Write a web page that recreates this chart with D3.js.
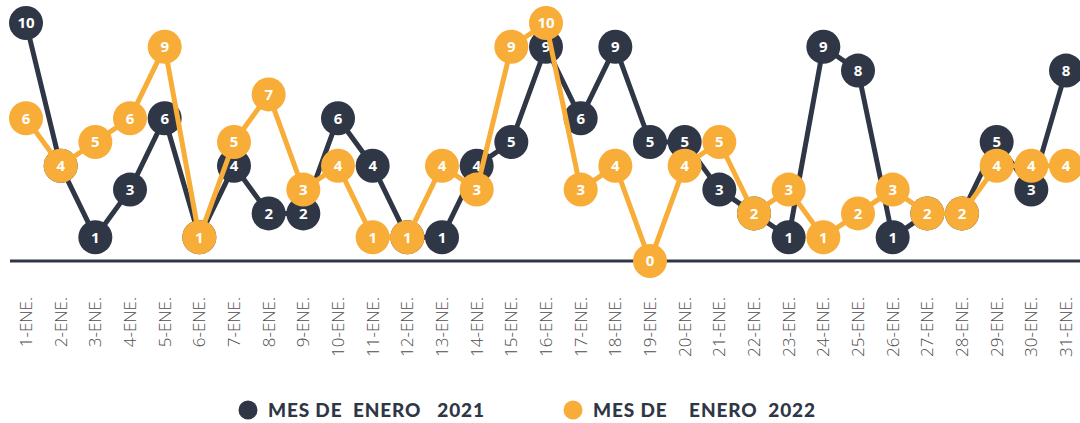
<!doctype html>
<html lang="es">
<head>
<meta charset="utf-8">
<title>Mes de enero 2021 / 2022</title>
<script src="https://cdn.jsdelivr.net/npm/d3@7"></script>
<style>
  body { margin: 0; background: #fff; }
  svg { display: block; font-family: "Open Sans", "DejaVu Sans", sans-serif; }
</style>
</head>
<body>
<script>
    // data
    var days = d3.range(1, 32).map(function(d){ return d + "-ENE."; });
    var serie2021 = [10,4,1,3,6,1,4,2,2,6,4,1,1,4,5,9,6,9,5,5,3,2,1,9,8,1,2,2,5,3,8];
    var serie2022 = [6,4,5,6,9,1,5,7,3,4,1,1,4,3,9,10,3,4,0,4,5,2,3,1,2,3,2,2,4,4,4];
    var seriesNames = ["MES DE  ENERO   2021", "MES DE    ENERO  2022"];
    var colors = ["#2f3746", "#f8ad38"];

    var width = 1080, height = 423;

    var svg = d3.select("body").append("svg")
            .attr("width", width).attr("height", height);

    var x = d3.scalePoint().domain(days).range([26, 1066]);
    var y = d3.scaleLinear().domain([0, 10]).range([261, 23]);

    // baseline
    svg.append("line")
        .attr("x1", 10).attr("x2", width)
        .attr("y1", y(0)).attr("y2", y(0))
        .attr("stroke", colors[0]).attr("stroke-width", 3);

    // tick labels, rotated
    svg.append("g").selectAll("text")
        .data(days)
        .enter().append("text")
        .attr("transform", function(d){ return "translate(" + (x(d) + 6) + ",297) rotate(-90)"; })
        .attr("text-anchor", "end")
        .attr("font-size", 17)
        .attr("fill", "#4d4d4d")
        .attr("font-weight", 300)
        .text(function(d){ return d; });

    var line = d3.line()
        .x(function(d, i){ return x(days[i]); })
        .y(function(d){ return y(d); });

    [serie2021, serie2022].forEach(function(serie, k){
        var g = svg.append("g");
        g.append("path")
            .attr("d", line(serie))
            .attr("fill", "none")
            .attr("stroke", colors[k])
            .attr("stroke-width", 5)
            .attr("stroke-linejoin", "round");
        var pts = g.selectAll("g.pt")
            .data(serie)
            .enter().append("g")
            .attr("transform", function(d, i){ return "translate(" + x(days[i]) + "," + y(d) + ")"; });
        pts.append("circle")
            .attr("r", 17)
            .attr("fill", colors[k]);
        pts.append("text")
            .attr("text-anchor", "middle")
            .attr("dy", "0.36em")
            .attr("font-size", 15)
            .attr("font-weight", 700)
            .attr("fill", "#fff")
            .text(function(d){ return d; });
    });

    // legend
    var legendX = [248, 573];
    var legendLen = [216, 222];
    var legend = svg.append("g").selectAll("g")
        .data(seriesNames)
        .enter().append("g")
        .attr("transform", function(d, i){ return "translate(" + legendX[i] + ",410)"; });
    legend.append("circle")
        .attr("r", 9.5)
        .attr("fill", function(d, i){ return colors[i]; });
    legend.append("text")
        .attr("x", 20)
        .attr("dy", "0.36em")
        .attr("font-family", "Lato, 'Open Sans', sans-serif")
        .attr("font-size", 19)
        .attr("font-weight", 900)
        .attr("fill", colors[0])
        .attr("textLength", function(d, i){ return legendLen[i]; })
        .attr("lengthAdjust", "spacing")
        .style("white-space", "pre")
        .text(function(d){ return d; });
</script>
</body>
</html>
